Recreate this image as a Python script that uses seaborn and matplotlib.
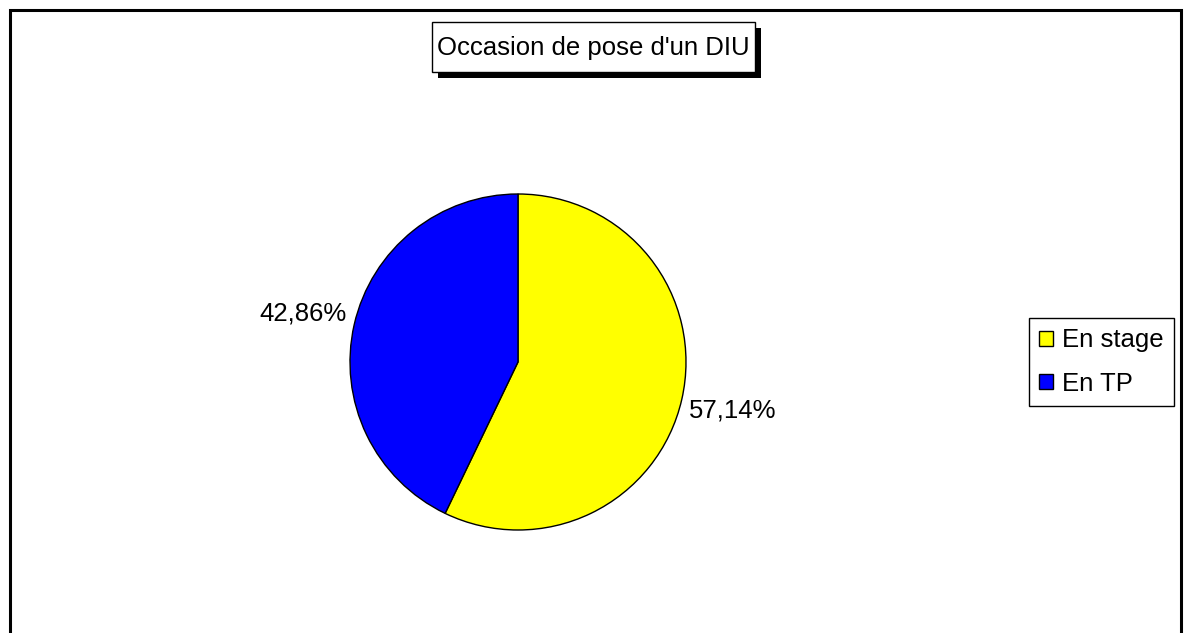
import matplotlib
matplotlib.use("Agg")
import matplotlib.pyplot as plt
from matplotlib.patches import Rectangle, Patch
import seaborn as sns

# Data
categories = ["En stage", "En TP"]
shares = [57.14, 42.86]
colors = ["#FFFF00", "#0000FF"]
title = "Occasion de pose d'un DIU"

W, H = 1202, 633

sns.set_theme(style="white")
plt.rcParams["font.family"] = ["Liberation Sans", "DejaVu Sans"]
plt.rcParams["text.color"] = "black"

fig = plt.figure(figsize=(W / 100, H / 100), dpi=100)
fig.patch.set_facecolor("white")


def px_rect(x0, y0, x1, y1, **kw):
    """ Rectangle given in image pixels (origin top-left) """
    return Rectangle((x0 / W, 1 - y1 / H), (x1 - x0) / W, (y1 - y0) / H,
                     transform=fig.transFigure, **kw)


# Outer chart border (bottom edge runs off the picture)
fig.add_artist(px_rect(10, 10, 1181, 640, facecolor="none", edgecolor="black", linewidth=2.2))

# Pie: center (518, 362), radius 168 px
R = 168
lim = 1.5
side = 2 * R * lim
ax = fig.add_axes([(518 - side / 2) / W, 1 - (362 + side / 2) / H, side / W, side / H])
labels = [f"{v:.2f}%".replace(".", ",") for v in shares]
wedges, texts = ax.pie(shares, colors=colors, startangle=90, counterclock=False,
                       labels=labels, labeldistance=1.31,
                       wedgeprops=dict(edgecolor="black", linewidth=1.0),
                       textprops=dict(fontsize=18.5, color="black"))
for t in texts:
    t.set_horizontalalignment("center")
    t.set_verticalalignment("center")
ax.set_xlim(-lim, lim)
ax.set_ylim(-lim, lim)
ax.set_aspect("equal")
ax.axis("off")

# Title box with shadow
fig.add_artist(px_rect(438, 28, 761, 78, facecolor="black", edgecolor="black", linewidth=0))
fig.add_artist(px_rect(432, 22, 755, 72, facecolor="white", edgecolor="black", linewidth=1.0))
fig.text((432 + 755) / 2 / W, 1 - 48 / H, title, ha="center", va="center",
         fontsize=18.5, color="black")

# Legend
handles = [Patch(facecolor=c, edgecolor="black", linewidth=1.0) for c in colors]
leg = fig.legend(handles, categories, loc="center",
                 bbox_to_anchor=((1030 + 1173) / 2 / W, 1 - 362 / H),
                 frameon=True, fancybox=False, edgecolor="black", framealpha=1,
                 fontsize=18.5, handlelength=0.55, handleheight=0.55,
                 handletextpad=0.35, labelspacing=0.75, borderpad=0.4,
                 borderaxespad=0, labelcolor="black")
leg.get_frame().set_linewidth(1.0)

fig.savefig("out.png", dpi=100)
